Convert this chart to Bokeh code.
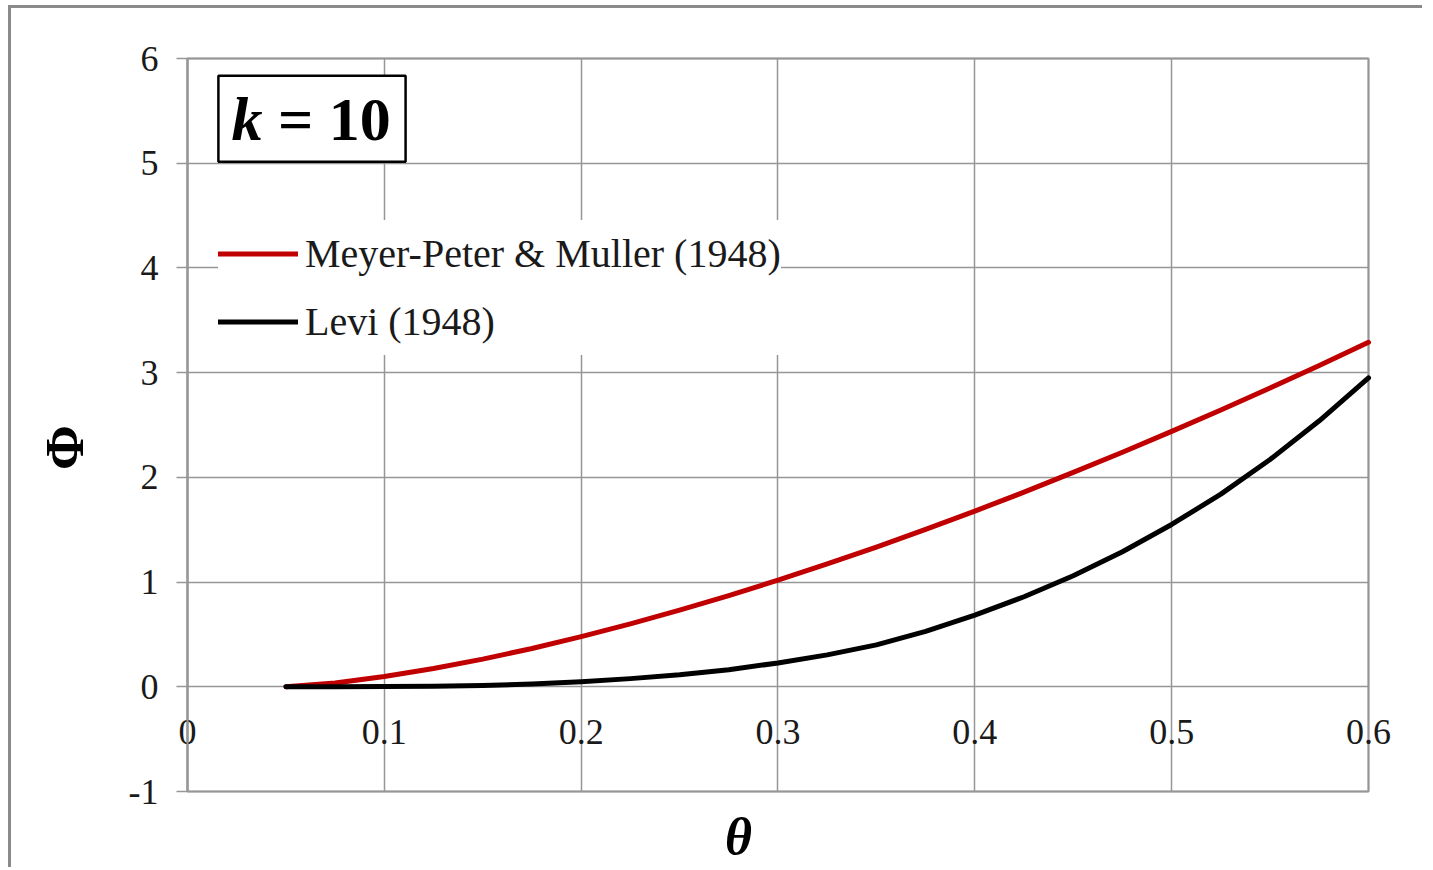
from bokeh.plotting import figure
from bokeh.models import Range1d, Label, BoxAnnotation, Legend, LegendItem
from bokeh.embed import file_html
from bokeh.resources import INLINE

# ---- data ----
theta = [0.05, 0.075, 0.1, 0.125, 0.15, 0.175, 0.2, 0.225, 0.25, 0.275, 0.3,
         0.325, 0.35, 0.375, 0.4, 0.425, 0.45, 0.475, 0.5, 0.525, 0.55, 0.575, 0.6]
phi_mpm = [0.001, 0.037, 0.098, 0.174, 0.264, 0.366, 0.479, 0.601, 0.732, 0.871, 1.018,
           1.173, 1.334, 1.503, 1.678, 1.859, 2.047, 2.240, 2.439, 2.644, 2.854, 3.069, 3.29]
phi_levi = [0.0, 0.0005, 0.002, 0.006, 0.013, 0.026, 0.048, 0.078, 0.115, 0.163, 0.228,
            0.305, 0.40, 0.53, 0.685, 0.86, 1.06, 1.29, 1.55, 1.84, 2.17, 2.54, 2.95]
series_names = ["Meyer-Peter & Muller (1948)", "Levi (1948)"]
x_ticks = [0, 0.1, 0.2, 0.3, 0.4, 0.5, 0.6]
y_ticks = [-1, 0, 1, 2, 3, 4, 5, 6]
x_bounds = (0, 0.6)
y_bounds = (-1, 6)

SERIF = "Liberation Serif"
GRID = "#969696"

# The frame is a little larger than the plot box so that the axis labels and
# titles (placed inside it) are not clipped.
p = figure(width=1414, height=862,
           x_range=Range1d(-0.08484, 0.62642), y_range=Range1d(-1.7544, 6.3629),
           output_backend="svg", toolbar_location=None,
           min_border_left=9, min_border_right=5,
           min_border_top=12, min_border_bottom=0)
p.styles = {"margin-left": "8px", "margin-top": "5px",
            "border-left": "3px solid #8a8a8a", "border-top": "3px solid #8a8a8a"}
p.background_fill_color = "white"
p.border_fill_color = "white"
p.outline_line_color = None

# x axis drawn on the y = 0 line, like the original
p.xaxis.ticker = x_ticks
p.xaxis.fixed_location = 0
p.xaxis.axis_line_color = None
p.xaxis.major_tick_line_color = None
p.xaxis.minor_tick_line_color = None
p.xaxis.major_tick_out = 0
p.xaxis.major_tick_in = 0
p.xaxis.major_label_standoff = 33
p.xaxis.major_label_text_font = SERIF
p.xaxis.major_label_text_font_size = "36px"
p.xaxis.major_label_text_color = "#1a1a1a"

p.yaxis.ticker = y_ticks
p.yaxis.fixed_location = 0
p.yaxis.bounds = y_bounds
p.yaxis.major_label_overrides = {-1: "-1"}
p.yaxis.axis_line_color = GRID
p.yaxis.axis_line_width = 2
p.yaxis.major_tick_line_color = GRID
p.yaxis.major_tick_line_width = 1.5
p.yaxis.major_tick_out = 11
p.yaxis.major_tick_in = 0
p.yaxis.minor_tick_line_color = None
p.yaxis.major_label_standoff = 18
p.yaxis.major_label_text_font = SERIF
p.yaxis.major_label_text_font_size = "36px"
p.yaxis.major_label_text_color = "#1a1a1a"

xg = p.xgrid[0]
yg = p.ygrid[0]
for g in (xg, yg):
    g.grid_line_color = GRID
    g.grid_line_width = 1.5
try:
    xg.cross_bounds = y_bounds
    yg.cross_bounds = x_bounds
except Exception:
    xg.visible = False
    yg.visible = False
    p.segment(x0=x_ticks, y0=[y_bounds[0]] * len(x_ticks), x1=x_ticks,
              y1=[y_bounds[1]] * len(x_ticks), line_color=GRID, line_width=1.5,
              level="underlay")
    p.segment(x0=[x_bounds[0]] * len(y_ticks), y0=y_ticks, x1=[x_bounds[1]] * len(y_ticks),
              y1=y_ticks, line_color=GRID, line_width=1.5, level="underlay")

# plot-area border
p.add_layout(BoxAnnotation(left=x_bounds[0], right=x_bounds[1],
                           bottom=y_bounds[0], top=y_bounds[1],
                           fill_alpha=0.0, line_color=GRID, line_alpha=1.0,
                           line_width=2, level="underlay"))

# curves
r1 = p.line(theta, phi_mpm, line_color="#C00000", line_width=5,
            line_cap="round", line_join="round")
r2 = p.line(theta, phi_levi, line_color="black", line_width=5,
            line_cap="round", line_join="round")

legend = Legend(items=[LegendItem(label=series_names[0], renderers=[r1]),
                       LegendItem(label=series_names[1], renderers=[r2])],
                location=(198, 515), glyph_width=80, glyph_height=67, label_height=67,
                spacing=1, padding=0, margin=0, label_standoff=7,
                label_text_font=SERIF, label_text_font_size="40px",
                label_text_color="#1a1a1a",
                border_line_color=None, background_fill_color="white",
                background_fill_alpha=1.0)
p.add_layout(legend)

# "k = 10" box
p.add_layout(BoxAnnotation(left=0.0157, right=0.1108, bottom=5.014, top=5.836,
                           fill_color="white", fill_alpha=1.0,
                           line_color="black", line_alpha=1.0, line_width=2.5))
p.add_layout(Label(x=0.0224, y=5.42, text="k", text_font=SERIF,
                   text_font_style="bold italic", text_font_size="62px",
                   text_baseline="middle", text_color="black"))
p.add_layout(Label(x=0.0460, y=5.42, text="= 10", text_font=SERIF,
                   text_font_style="bold", text_font_size="62px",
                   text_baseline="middle", text_color="black"))

# axis titles
p.add_layout(Label(x=0.2799, y=-1.43, text="θ", text_font=SERIF,
                   text_font_style="bold italic", text_font_size="52px",
                   text_align="center", text_baseline="middle", text_color="black"))
p.add_layout(Label(x=-0.062, y=2.283, text="Φ", text_font=SERIF,
                   text_font_style="bold", text_font_size="54px", angle=90,
                   angle_units="deg", text_align="center", text_baseline="middle",
                   text_color="black"))

open("out.html", "w").write(file_html(p, INLINE))
